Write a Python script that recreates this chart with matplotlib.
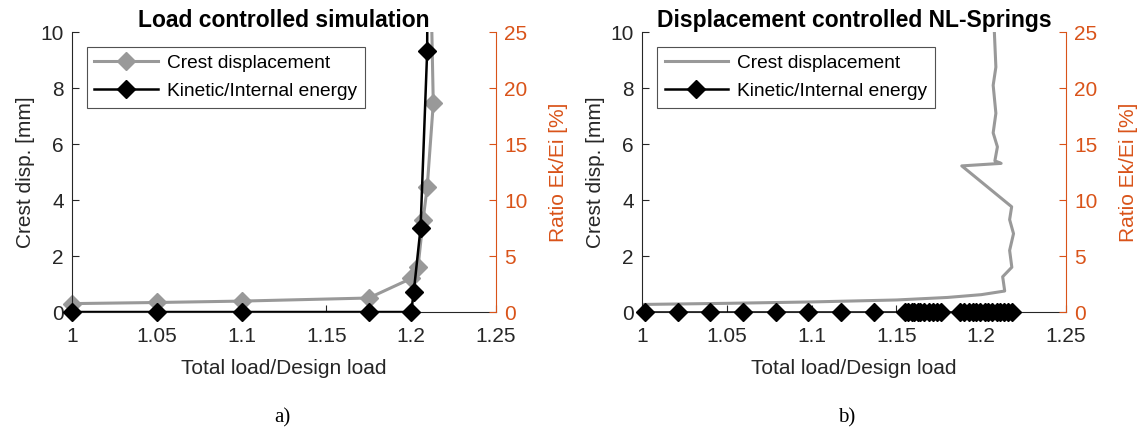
import numpy as np
import matplotlib
matplotlib.use("Agg")
import matplotlib.pyplot as plt
from matplotlib.lines import Line2D

plt.rcParams['font.family'] = ['Liberation Sans', 'DejaVu Sans']

# panel a) load controlled simulation
load_a = [1.0, 1.05, 1.1, 1.175, 1.2, 1.204, 1.207, 1.2094, 1.213, 1.2115]
crest_a = [0.3, 0.34, 0.39, 0.5, 1.2, 1.6, 3.3, 4.45, 7.45, 12.0]
load_a_en = [1.0, 1.05, 1.1, 1.175, 1.2, 1.2015, 1.2055, 1.2094, 1.2098]
ratio_a = [0.0, 0.0, 0.0, 0.0, 0.0, 1.8, 7.5, 23.3, 40.0]

# panel b) displacement controlled NL-springs
load_b = [1.0, 1.05, 1.1, 1.15, 1.18, 1.2, 1.2138, 1.2126, 1.218, 1.2167, 1.219,
          1.2167, 1.2179, 1.1885, 1.2117, 1.208, 1.2095, 1.207, 1.2086, 1.207,
          1.2086, 1.2077]
crest_b = [0.27, 0.31, 0.36, 0.43, 0.52, 0.62, 0.75, 1.26, 1.6, 2.2, 2.8,
           3.3, 3.76, 5.22, 5.31, 5.4, 5.9, 6.4, 7.1, 8.1, 8.75, 10.0]
load_b_en = [1.0015, 1.021, 1.0403, 1.0598, 1.0788, 1.0977, 1.1171, 1.1365,
             1.1548, 1.157, 1.159, 1.1605, 1.1625, 1.164, 1.1665, 1.169, 1.1715, 1.174, 1.1765,
             1.1875, 1.19, 1.1925, 1.195, 1.197, 1.1995, 1.202, 1.204, 1.2065, 1.209,
             1.211, 1.2135, 1.216, 1.218]
ratio_b = [0.0] * len(load_b_en)

titles = ['Load controlled simulation', 'Displacement controlled NL-Springs']
sub_labels = ['a)', 'b)']
sub_label_x = [0.248, 0.743]
x_ticks = [1, 1.05, 1.1, 1.15, 1.2, 1.25]
x_ticklabels = ['1', '1.05', '1.1', '1.15', '1.2', '1.25']

GRAY = '#999999'
ORANGE = '#D95319'
DARK = '#262626'


def plot_with_markers(ax, x, y, top, color, lw):
    # line clipped to the axes, markers inside the range drawn unclipped
    x = np.asarray(x)
    y = np.asarray(y)
    ax.plot(x, y, color=color, lw=lw)
    keep = y <= top
    ax.plot(x[keep], y[keep], ls='none', marker='D', ms=9, mfc=color, mec=color,
            clip_on=False)


fig = plt.figure(figsize=(11.39, 4.28), dpi=100)
positions = [[0.0632, 0.271, 0.3723, 0.654], [0.5637, 0.271, 0.3723, 0.654]]

for i, pos in enumerate(positions):
    ax = fig.add_axes(pos)
    ax2 = ax.twinx()
    if i == 0:
        plot_with_markers(ax, load_a, crest_a, 10, GRAY, 2.2)
        plot_with_markers(ax2, load_a_en, ratio_a, 25, 'black', 1.8)
        crest_marker = 'D'
    else:
        ax.plot(load_b, crest_b, color=GRAY, lw=2.2)
        plot_with_markers(ax2, load_b_en, ratio_b, 25, 'black', 1.8)
        crest_marker = None

    ax.set_xlim(1, 1.25)
    ax.set_ylim(0, 10)
    ax2.set_ylim(0, 25)
    ax.set_xticks(x_ticks)
    ax.set_xticklabels(x_ticklabels)
    ax.set_yticks(np.arange(0, 11, 2))
    ax2.set_yticks(np.arange(0, 26, 5))
    ax.tick_params(axis='y', direction='in', labelsize=15, length=5, width=0.8,
                   colors=DARK, pad=6)
    ax.tick_params(axis='x', direction='in', labelsize=15, length=5, width=0.8,
                   colors=DARK, pad=11)
    ax2.tick_params(direction='in', labelsize=15, length=5, width=0.8,
                    colors=ORANGE, pad=6)
    for a in (ax, ax2):
        a.spines['top'].set_visible(False)
    ax.spines['right'].set_visible(False)
    ax2.spines['left'].set_visible(False)
    ax2.spines['bottom'].set_visible(False)
    ax2.spines['right'].set_color(ORANGE)
    ax.spines['left'].set_color(DARK)
    ax.spines['bottom'].set_color(DARK)

    ax.set_xlabel('Total load/Design load', fontsize=15, color=DARK, labelpad=9)
    ax.set_ylabel('Crest disp. [mm]', fontsize=15, color=DARK, labelpad=4)
    ax2.set_ylabel('Ratio Ek/Ei [%]', fontsize=15, color=ORANGE, labelpad=15)
    ax.set_title(titles[i], fontsize=16.5, fontweight='bold', pad=2)

    handles = [
        Line2D([], [], color=GRAY, lw=2.2, marker=crest_marker, ms=9, mfc=GRAY, mec=GRAY),
        Line2D([], [], color='black', lw=1.8, marker='D', ms=9, mfc='black', mec='black'),
    ]
    leg = ax2.legend(handles, ['Crest displacement', 'Kinetic/Internal energy'],
                     loc='upper left', bbox_to_anchor=(0.035, 0.947), fontsize=13.8,
                     frameon=True, fancybox=False, edgecolor=DARK, borderaxespad=0,
                     handlelength=3.3, borderpad=0.4, labelspacing=0.55,
                     handletextpad=0.5)
    leg.get_frame().set_linewidth(0.8)
    leg.set_zorder(5)

    fig.text(sub_label_x[i], 0.012, sub_labels[i], fontsize=15,
             family=['Liberation Serif', 'DejaVu Serif'], ha='center')

fig.savefig('out.png', dpi=100, facecolor='white')
